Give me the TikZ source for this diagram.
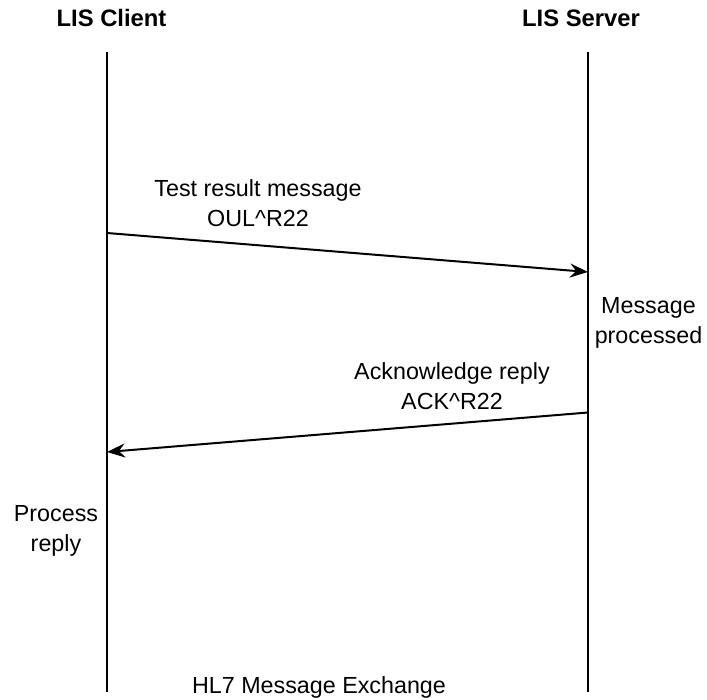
\documentclass[tikz,border=0pt]{standalone}
\usepackage{fontspec}
\setmainfont{Liberation Sans}
\usetikzlibrary{arrows.meta}
\begin{document}
\begin{tikzpicture}[x=1pt,y=-1pt,
  lbl/.style={font=\fontsize{23.3}{30}\selectfont, inner sep=0pt, align=center, anchor=base},
  ttl/.style={font=\fontsize{23.8}{30}\selectfont\bfseries, inner sep=0pt, anchor=base},
  life/.style={line width=2pt, black},
  msg/.style={line width=2pt, black, -{Stealth[length=18pt,width=14pt,inset=6pt]}}]
\useasboundingbox (0,0) rectangle (707,700);
% titles
\node[ttl] (cl) at (111.5,27) {LIS Client};
\node[ttl] (sv) at (581,27) {LIS Server};
% lifelines
\coordinate (ct) at (107,52);
\coordinate (cb) at (107,692);
\coordinate (st) at (588,52);
\coordinate (sb) at (588,692);
\draw[life] (ct) -- (cb);
\draw[life] (st) -- (sb);
% messages
\coordinate (m1s) at (107,233);
\coordinate (m1e) at (588,272);
\coordinate (m2s) at (588,412.5);
\coordinate (m2e) at (107,452);
\draw[msg] (m1s) -- (m1e);
\draw[msg] (m2s) -- (m2e);
% labels (anchor at baseline of last line)
\node[lbl] (l1) at (258,227) {Test result message\\OUL\^{}R22};
\node[lbl] (l2) at (648.5,344) {Message\\processed};
\node[lbl] (l3) at (452,410) {Acknowledge reply\\ACK\^{}R22};
\node[lbl] (l4) at (56,551.5) {Process\\reply};
\node[lbl] (l5) at (319,693) {HL7 Message Exchange};
\end{tikzpicture}
\end{document}
